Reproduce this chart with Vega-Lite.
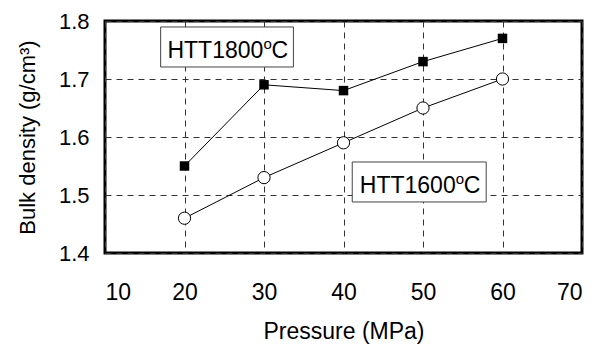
{
  "$schema": "https://vega.github.io/schema/vega-lite/v6.json",
  "width": 477,
  "height": 232,
  "autosize": {"type": "none"},
  "padding": {"left": 105, "top": 21, "right": 13, "bottom": 92},
  "background": "white",
  "config": {
    "font": "Liberation Sans",
    "view": {"stroke": "black", "strokeWidth": 3},
    "axis": {
      "labelFont": "Liberation Sans",
      "titleFont": "Liberation Sans",
      "labelFontSize": 22,
      "titleFontSize": 22,
      "labelColor": "black",
      "titleColor": "black",
      "titleFontWeight": "normal",
      "domain": false,
      "ticks": false,
      "gridColor": "#333333",
      "gridWidth": 1,
      "gridDash": [6, 5],
      "gridOpacity": 1
    }
  },
  "datasets": {
    "series": [
      {"pressure": 20, "density": 1.55, "series": "HTT1800"},
      {"pressure": 30, "density": 1.69, "series": "HTT1800"},
      {"pressure": 40, "density": 1.68, "series": "HTT1800"},
      {"pressure": 50, "density": 1.73, "series": "HTT1800"},
      {"pressure": 60, "density": 1.77, "series": "HTT1800"},
      {"pressure": 20, "density": 1.46, "series": "HTT1600"},
      {"pressure": 30, "density": 1.53, "series": "HTT1600"},
      {"pressure": 40, "density": 1.59, "series": "HTT1600"},
      {"pressure": 50, "density": 1.65, "series": "HTT1600"},
      {"pressure": 60, "density": 1.70, "series": "HTT1600"}
    ],
    "labels": [
      {"main": "HTT1800", "sup": "o", "unit": "C", "x": 25.4, "y": 1.7357, "x1": 17.0, "x2": 33.7, "y1": 1.7207, "y2": 1.7897},
      {"main": "HTT1600", "sup": "o", "unit": "C", "x": 49.6, "y": 1.5029, "x1": 41.1, "x2": 57.95, "y1": 1.488, "y2": 1.5569}
    ]
  },
  "layer": [
    {
      "data": {"name": "series"},
      "mark": {"type": "line", "color": "black", "strokeWidth": 1},
      "encoding": {
        "x": {
          "field": "pressure", "type": "quantitative",
          "scale": {"domain": [10, 70], "nice": false, "zero": false},
          "axis": {"values": [10, 20, 30, 40, 50, 60, 70], "title": "Pressure (MPa)", "labelPadding": 28, "titlePadding": 16, "grid": true, "format": "d", "labelFontSize": 23, "titleFontSize": 23}
        },
        "y": {
          "field": "density", "type": "quantitative",
          "scale": {"domain": [1.4, 1.8], "nice": false, "zero": false},
          "axis": {"values": [1.4, 1.5, 1.6, 1.7, 1.8], "title": "Bulk density (g/cm³)", "labelPadding": 16, "titlePadding": 19, "grid": true, "format": ".1f"}
        },
        "detail": {"field": "series"}
      }
    },
    {
      "data": {"name": "series"},
      "transform": [{"filter": "datum.series === 'HTT1800'"}],
      "mark": {"type": "point", "shape": "square", "filled": true, "color": "black", "size": 90, "opacity": 1},
      "encoding": {
        "x": {"field": "pressure", "type": "quantitative"},
        "y": {"field": "density", "type": "quantitative"}
      }
    },
    {
      "data": {"name": "series"},
      "transform": [{"filter": "datum.series === 'HTT1600'"}],
      "mark": {"type": "point", "shape": "circle", "filled": false, "fill": "white", "fillOpacity": 1, "stroke": "black", "strokeWidth": 1, "size": 150, "opacity": 1},
      "encoding": {
        "x": {"field": "pressure", "type": "quantitative"},
        "y": {"field": "density", "type": "quantitative"}
      }
    },
    {
      "data": {"name": "labels"},
      "mark": {"type": "rect", "fill": "white", "stroke": "#444444", "strokeWidth": 1},
      "encoding": {
        "x": {"field": "x1", "type": "quantitative"},
        "x2": {"field": "x2"},
        "y": {"field": "y1", "type": "quantitative"},
        "y2": {"field": "y2"}
      }
    },
    {
      "data": {"name": "labels"},
      "mark": {"type": "text", "font": "Liberation Sans", "fontSize": 23, "color": "black", "align": "left", "baseline": "alphabetic", "dx": -60},
      "encoding": {
        "x": {"field": "x", "type": "quantitative"},
        "y": {"field": "y", "type": "quantitative"},
        "text": {"field": "main"}
      }
    },
    {
      "data": {"name": "labels"},
      "mark": {"type": "text", "font": "Liberation Sans", "fontSize": 15, "color": "black", "align": "left", "baseline": "alphabetic", "dx": 36, "dy": -9},
      "encoding": {
        "x": {"field": "x", "type": "quantitative"},
        "y": {"field": "y", "type": "quantitative"},
        "text": {"field": "sup"}
      }
    },
    {
      "data": {"name": "labels"},
      "mark": {"type": "text", "font": "Liberation Sans", "fontSize": 23, "color": "black", "align": "left", "baseline": "alphabetic", "dx": 44},
      "encoding": {
        "x": {"field": "x", "type": "quantitative"},
        "y": {"field": "y", "type": "quantitative"},
        "text": {"field": "unit"}
      }
    }
  ]
}
